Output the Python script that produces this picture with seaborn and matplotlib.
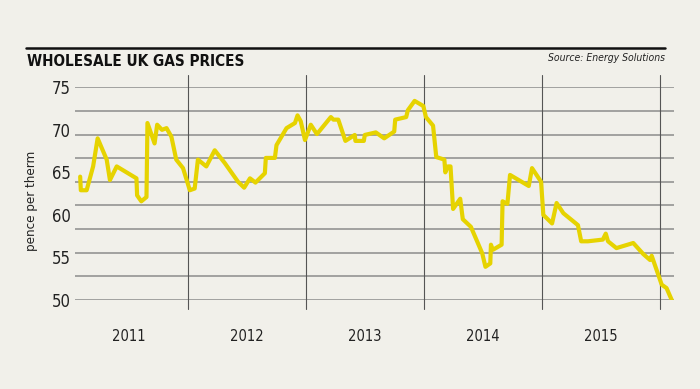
import pandas as pd
import numpy as np
import matplotlib
matplotlib.use("Agg")
import matplotlib.pyplot as plt
from matplotlib import font_manager
from matplotlib.lines import Line2D
import seaborn as sns

# Wholesale UK gas prices, pence per therm
dates = [
    "2011-02-03", "2011-02-05", "2011-02-23", "2011-03-15", "2011-03-29", "2011-04-26",
    "2011-05-06", "2011-05-27", "2011-07-27", "2011-07-29", "2011-08-11", "2011-08-27",
    "2011-08-30", "2011-09-21", "2011-09-29", "2011-10-14", "2011-10-28", "2011-11-12",
    "2011-11-27", "2011-12-18", "2012-01-08", "2012-01-23", "2012-02-02", "2012-02-28",
    "2012-03-25", "2012-04-25", "2012-06-05", "2012-06-24", "2012-07-12", "2012-07-29",
    "2012-08-27", "2012-08-30", "2012-09-27", "2012-10-02", "2012-11-02", "2012-11-28",
    "2012-12-06", "2012-12-16", "2012-12-29", "2013-01-16", "2013-02-04", "2013-03-19",
    "2013-03-27", "2013-04-11", "2013-05-03", "2013-06-01", "2013-06-03", "2013-06-29",
    "2013-07-02", "2013-08-05", "2013-08-31", "2013-10-01", "2013-10-04", "2013-11-07",
    "2013-11-12", "2013-12-03", "2013-12-30", "2014-01-07", "2014-01-29", "2014-02-08",
    "2014-03-05", "2014-03-08", "2014-03-16", "2014-03-24", "2014-04-01", "2014-04-23",
    "2014-05-01", "2014-05-26", "2014-06-30", "2014-07-10", "2014-07-25", "2014-07-27",
    "2014-08-02", "2014-08-29", "2014-09-01", "2014-09-16", "2014-09-24", "2014-11-21",
    "2014-12-01", "2014-12-29", "2015-01-05", "2015-02-01", "2015-02-15", "2015-03-08",
    "2015-04-22", "2015-05-02", "2015-05-23", "2015-07-08", "2015-07-17", "2015-07-24",
    "2015-08-19", "2015-10-10", "2015-11-10", "2015-12-01", "2015-12-06", "2016-01-06",
    "2016-01-21", "2016-02-06",
]
prices = [
    64.5, 62.9, 62.9, 65.7, 69.0, 66.5,
    64.1, 65.7, 64.3, 62.3, 61.6, 62.1,
    70.8, 68.4, 70.6, 70.0, 70.2, 69.2,
    66.5, 65.5, 62.9, 63.1, 66.5, 65.7,
    67.6, 66.1, 63.9, 63.2, 64.3, 63.8,
    64.9, 66.7, 66.7, 68.2, 70.2, 70.8,
    71.7, 71.0, 68.8, 70.6, 69.5, 71.5,
    71.2, 71.2, 68.7, 69.4, 68.7, 68.7,
    69.4, 69.7, 69.0, 69.8, 71.2, 71.5,
    72.3, 73.4, 72.8, 71.5, 70.5, 66.8,
    66.5, 65.0, 65.7, 65.7, 60.7, 61.9,
    59.5, 58.6, 55.5, 53.9, 54.3, 56.5,
    55.9, 56.5, 61.6, 61.3, 64.7, 63.4,
    65.5, 63.9, 60.0, 59.0, 61.4, 60.2,
    58.8, 56.9, 56.9, 57.1, 57.8, 56.9,
    56.1, 56.7, 55.4, 54.7, 55.2, 51.8,
    51.4, 50.0,
]
years = [2011, 2012, 2013, 2014, 2015]
y_labels = [50, 55, 60, 65, 70, 75]

BG = "#f1f0ea"
LINE = "#e6d300"
GRID = "#8c8c8c"

sns.set_theme(style="white")

# pick a narrow font if one is installed
names = {f.name for f in font_manager.fontManager.ttflist}
if "Liberation Sans Narrow" in names:
    FONT, STRETCH = "Liberation Sans Narrow", "normal"
elif "DejaVu Sans Condensed" in names:
    FONT, STRETCH = "DejaVu Sans Condensed", "normal"
else:
    FONT, STRETCH = "DejaVu Sans", "condensed"
plt.rcParams["font.family"] = [FONT, "DejaVu Sans"]
plt.rcParams["font.stretch"] = STRETCH

df = pd.DataFrame({"date": pd.to_datetime(dates), "price": prices})

fig = plt.figure(figsize=(7, 3.89), dpi=100, facecolor=BG)
ax = fig.add_axes([75 / 700, 89 / 389, 599 / 700, 212.7 / 389])
ax.set_facecolor(BG)

# horizontal rules (10 evenly spaced, not aligned with labels)
for yv in np.linspace(50, 75, 10):
    ax.axhline(yv, color=GRID, lw=1.1, zorder=1)

# year dividers poking above and below the plot area
for yr in years[1:] + [2016]:
    ax.axvline(pd.Timestamp(f"{yr}-01-01"), ymin=-0.042, ymax=1.058,
               color="#555555", lw=0.8, clip_on=False, zorder=1)

sns.lineplot(data=df, x="date", y="price", ax=ax, color=LINE, lw=3.0,
             estimator=None, sort=False, zorder=3)

ax.set_xlim(pd.Timestamp("2011-01-18"), pd.Timestamp("2016-02-13"))
ax.set_ylim(50, 75)
ax.set_yticks(y_labels)
ax.set_yticklabels([str(v) for v in y_labels], fontsize=12, color="#222222")
ax.set_xticks([pd.Timestamp(f"{y}-07-02") for y in years])
ax.set_xticklabels([str(y) for y in years], fontsize=10.5, color="#222222")
ax.tick_params(axis="y", length=0, pad=3)
ax.tick_params(axis="x", length=0, pad=21)
ax.set_xlabel("")
ax.set_ylabel("")
sns.despine(ax=ax, left=True, bottom=True)

fig.text(32 / 700, 1 - 201 / 389, "pence per therm", rotation=90,
         ha="center", va="center", fontsize=9.5, color="#222222")

# header
fig.add_artist(Line2D([26 / 700, 665 / 700], [1 - 48 / 389, 1 - 48 / 389],
                      color="#111111", lw=1.8, transform=fig.transFigure))
fig.text(27 / 700, 1 - 62 / 389, "WHOLESALE UK GAS PRICES", ha="left", va="center",
         fontsize=11, fontweight="bold", color="#111111")
fig.text(665 / 700, 1 - 58 / 389, "Source: Energy Solutions", ha="right", va="center",
         fontsize=7.5, style="italic", color="#222222")

fig.savefig("out.png", dpi=100, facecolor=BG)
